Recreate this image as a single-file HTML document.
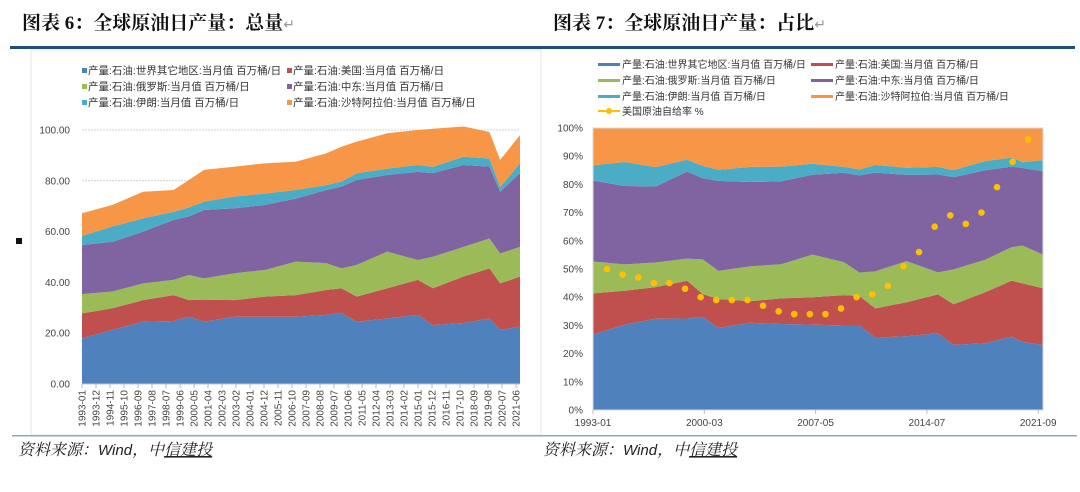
<!DOCTYPE html>
<html><head><meta charset="utf-8">
<style>
body{margin:0;background:#fff;width:1080px;height:492px;overflow:hidden;}
svg{display:block;font-family:"Liberation Sans","Noto Sans CJK SC",sans-serif;}
.lg{font-size:10.5px;fill:#333;}
.lg2{font-size:10px;fill:#333;}
.ax{font-size:10px;fill:#444;}
.ttl{font-family:"Liberation Serif","Noto Serif CJK SC",serif;font-size:19px;font-weight:bold;fill:#111;}
.src{font-family:"Liberation Serif","Noto Serif CJK SC",serif;font-size:16px;font-style:italic;fill:#222;}
</style></head><body>
<svg id="root" width="1080" height="492" viewBox="0 0 1080 492">
  <text class="ttl" x="22" y="29">图表 6：全球原油日产量：总量<tspan fill="#999" font-weight="normal" font-size="14">↵</tspan></text>
  <text class="ttl" x="553" y="29">图表 7：全球原油日产量：占比<tspan fill="#999" font-weight="normal" font-size="14">↵</tspan></text>
  <rect x="10" y="46" width="1065" height="3" fill="#1f4e79"/>
  <rect x="31" y="50" width="510" height="385" fill="none" stroke="#e4e4e4"/>
  <rect x="12" y="435" width="1065" height="1.5" fill="#8fa8c0"/>
  <rect x="16" y="238" width="6" height="6" fill="#111"/>
  <text class="src" x="18" y="455">资料来源：<tspan font-family="Liberation Sans" font-size="15">Wind</tspan>，中<tspan text-decoration="underline">信建投</tspan></text>
  <text class="src" x="543" y="455">资料来源：<tspan font-family="Liberation Sans" font-size="15">Wind</tspan>，中<tspan text-decoration="underline">信建投</tspan></text>
  <g id="leftLegend"></g><g id="rightLegend"></g>
  <g id="left"></g><g id="right"></g>
</svg>
<script>
const dates=[1993,1995,1997,1999,2000,2001,2003,2005,2007,2009,2010,2011,2013,2015,2016,2018,2019.7,2020.4,2021.7];
const rest=[18,21.3,24.5,24.8,26.5,24.5,26.5,26.5,26.5,27.2,28,24.5,25.8,27.2,23.2,24,25.8,21.3,22.6];
const us=[9.8,8.5,8.5,10.2,6.5,8.7,6.5,7.9,8.5,9.8,9.7,9.9,11.9,13.8,14.5,18.3,19.7,18.3,19.7];
const russia=[7.6,6.6,6.6,6.0,9.9,8.4,10.6,10.5,13.2,10.6,7.8,12.5,14.4,7.8,12.4,11.7,11.8,11.8,11.7];
const mideast=[19.3,19.6,20.4,23.6,23.1,26.9,25.6,25.6,24.8,28.8,32.2,33.4,30.2,34.7,32.9,32.2,28.3,24.3,29];
const iran=[3.6,6,5.2,3.2,3.5,3.3,4.6,4.5,3.4,1.9,2,2.6,2.5,2.7,2.5,3.3,3.2,1.8,3.9];
const saudi=[8.9,8.5,10.5,8.6,10.8,12.5,11.8,11.9,11.1,12.5,13.7,12.5,13.9,13.8,15,11.9,10.4,10.7,11.1];
const ratioYears=[1994,1995,1996,1997,1998,1999,2000,2001,2002,2003,2004,2005,2006,2007,2008,2009,2010,2011,2012,2013,2014,2015,2016,2017,2018,2019,2020,2021];
const ratio=[50,48,47,45,45,43,40,39,39,39,37,35,34,34,34,36,40,41,44,51,56,65,69,66,70,79,88,96];
const leftTicks=["0.00","20.00","40.00","60.00","80.00","100.00"];
const rightTicks=["0%","10%","20%","30%","40%","50%","60%","70%","80%","90%","100%"];
const rightXLabels=["1993-01","2000-03","2007-05","2014-07","2021-09"];
const names=["产量:石油:世界其它地区:当月值 百万桶/日","产量:石油:美国:当月值 百万桶/日","产量:石油:俄罗斯:当月值 百万桶/日","产量:石油:中东:当月值 百万桶/日","产量:石油:伊朗:当月值 百万桶/日","产量:石油:沙特阿拉伯:当月值 百万桶/日"];
const colors=["#4f81bd","#c0504d","#9bbb59","#8064a2","#4bacc6","#f79646"];
const series=[rest,us,russia,mideast,iran,saudi];
const NS="http://www.w3.org/2000/svg";
function mk(tag,attrs,parent,text){const e=document.createElementNS(NS,tag);for(const k in attrs)e.setAttribute(k,attrs[k]);if(text!==undefined)e.textContent=text;parent.appendChild(e);return e;}
const LX=t=>82+(t-1993)/(2021.7-1993)*438;
const LY=v=>384-v/100*254;
const L=document.getElementById('left');
for(let i=0;i<leftTicks.length;i++){const v=+leftTicks[i];
 if(v>0){const g=mk('line',{x1:82,x2:520,y1:LY(v),y2:LY(v),stroke:'#d0d0d0','stroke-dasharray':'2,1'},L);
 }
 const t=mk('text',{x:70,y:LY(v)+3.5,'text-anchor':'end',class:'ax'},L,leftTicks[i]);
 }
function stackPaths(g,X,Y,norm,prefix){
 const cum=dates.map(()=>0);
 const tot=dates.map((d,i)=>series.reduce((s,a)=>s+a[i],0));
 series.forEach((arr,k)=>{
  const lo=cum.slice();
  arr.forEach((v,i)=>cum[i]+=v);
  const f=i=>norm?100/tot[i]:1;
  let d='M'+dates.map((t,i)=>X(t)+','+Y(cum[i]*f(i))).join('L');
  for(let i=dates.length-1;i>=0;i--)d+='L'+X(dates[i])+','+Y(lo[i]*f(i));
  const p=mk('path',{d:d+'Z',fill:colors[k]},g);
  
  
 });}
stackPaths(L,LX,LY,false,'left');
mk('line',{x1:82,x2:520,y1:384,y2:384,stroke:'#bfc9d6'},L);
for(let i=0;i<32;i++){const m=i*11;const yr=1993+Math.floor(m/12),mo=m%12+1;
 const x=82+i*(434/31);
 mk('line',{x1:x,x2:x,y1:384,y2:388,stroke:'#bbb'},L);
 const t=mk('text',{x:0,y:0,transform:`translate(${x+3.5},${390}) rotate(-90)`,'text-anchor':'end',class:'ax'},L,yr+'-'+String(mo).padStart(2,'0'));
 }
const LL=document.getElementById('leftLegend');
names.forEach((n,k)=>{const col=k%2,row=Math.floor(k/2);const x=col?287:82,y=74+row*16;
 const r=mk('rect',{x:x,y:y-6,width:5,height:5,fill:colors[k]},LL);
 
 const t=mk('text',{x:x+6,y:y,class:'lg'},LL,n);
 });
const RX=t=>593+(t-1993)/(2021.7-1993)*450;
const RY=v=>410-v/100*282;
const R=document.getElementById('right');
stackPaths(R,RX,RY,true,'right');
mk('rect',{x:593,y:128,width:450,height:282,fill:'none',stroke:'#d8d8d8'},R);
rightTicks.forEach((s,i)=>{const t=mk('text',{x:583,y:RY(i*10)+3.5,'text-anchor':'end',class:'ax'},R,s);
 });
rightXLabels.forEach((s,i)=>{const x=593+i*111.3;
 mk('line',{x1:x,x2:x,y1:410,y2:414,stroke:'#bbb'},R);
 const t=mk('text',{x:x,y:426,'text-anchor':'middle',class:'ax'},R,s);
 });
ratio.forEach((v,i)=>{const c=mk('circle',{cx:593+(i+0.9)*15.6,cy:RY(v),r:3.3,fill:'#ffc000'},R);
 });
const RL=document.getElementById('rightLegend');
names.forEach((n,k)=>{const col=k%2,row=Math.floor(k/2);const x=col?811:598,y=68+row*16;
 const r=mk('rect',{x:x,y:y-5,width:22,height:3,fill:colors[k]},RL);
 
 const t=mk('text',{x:x+24,y:y,class:'lg2'},RL,n);
 });
mk('line',{x1:598,x2:620,y1:111,y2:111,stroke:'#ffc000','stroke-width':2},RL);
mk('circle',{cx:609,cy:111,r:3,fill:'#ffc000'},RL);
const lt=mk('text',{x:622,y:115,class:'lg2'},RL,'美国原油自给率 %');

</script>
</body></html>
